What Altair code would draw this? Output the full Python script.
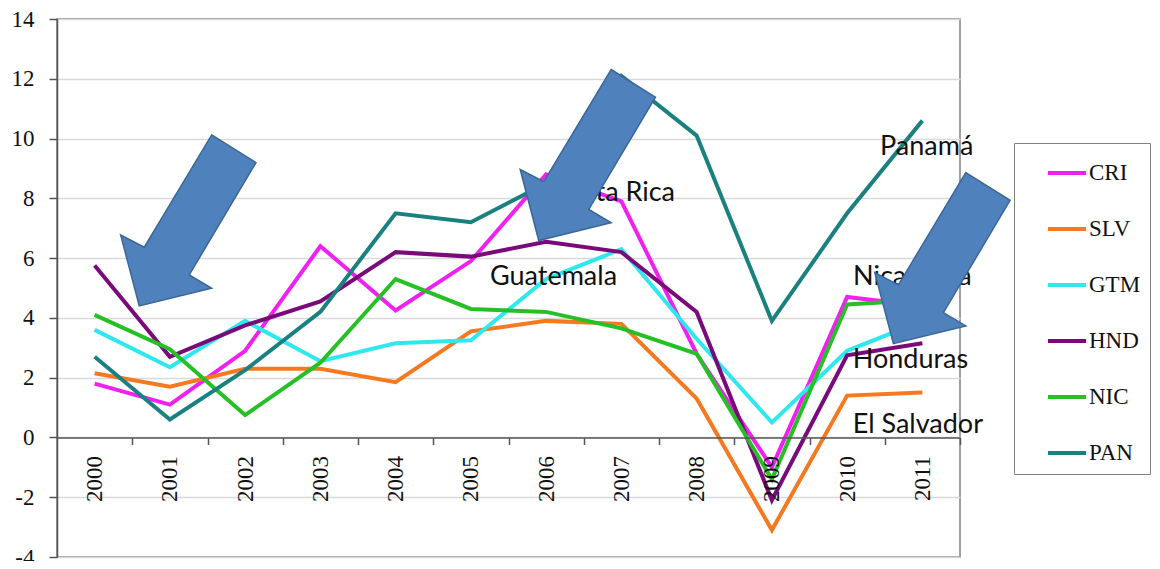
import altair as alt
import pandas as pd

# ---- data ----
years = list(range(2000, 2012))
series = ["CRI", "SLV", "GTM", "HND", "NIC", "PAN"]
CRI = [1.8, 1.1, 2.9, 6.4, 4.25, 5.9, 8.8, 7.9, 2.8, -1.0, 4.7, 4.4]
SLV = [2.15, 1.7, 2.3, 2.3, 1.85, 3.55, 3.9, 3.8, 1.3, -3.1, 1.4, 1.5]
GTM = [3.6, 2.35, 3.9, 2.55, 3.15, 3.25, 5.3, 6.3, 3.3, 0.5, 2.9, 3.9]
HND = [5.75, 2.7, 3.75, 4.55, 6.2, 6.05, 6.55, 6.2, 4.2, -2.1, 2.75, 3.15]
NIC = [4.1, 2.95, 0.75, 2.5, 5.3, 4.3, 4.2, 3.65, 2.8, -1.4, 4.45, 4.6]
PAN = [2.7, 0.6, 2.25, 4.2, 7.5, 7.2, 8.5, 12.1, 10.1, 3.9, 7.5, 10.6]
y_ticks = [-4, -2, 0, 2, 4, 6, 8, 10, 12, 14]

# annotation labels (anchored in data units)
label_text = ["Guatemala", "Panamá", "Nicaragua", "Honduras", "El Salvador"]
label_x = [2005.254, 2010.437, 2010.078, 2010.074, 2010.074]
label_y = [5.38, 9.73, 5.38, 2.6, 0.42]
label_r_text = ["Costa Rica"]
label_r_x = [2007.713]
label_r_y = [8.18]

# arrow centres (data units)
arrow_x = [2001.245, 2006.554, 2011.267]
arrow_y = [7.26, 9.45, 6.0]

colors = ["#f020f0", "#f47920", "#2ee8ee", "#7a0a7a", "#26c026", "#1a8080"]

rows = []
for name, vals in zip(series, [CRI, SLV, GTM, HND, NIC, PAN]):
    for yr, v in zip(years, vals):
        rows.append({"year": yr, "value": v, "country": name})
df = pd.DataFrame(rows)

lab_df = pd.DataFrame({"t": label_text, "x": label_x, "y": label_y})
lab_r_df = pd.DataFrame({"t": label_r_text, "x": label_r_x, "y": label_r_y})
arr_df = pd.DataFrame({"x": arrow_x, "y": arrow_y})

W, H = 903, 538
half = W / 12 / 2
zero_off = -H * 4 / 18
SERIF = "Times New Roman, Liberation Serif, serif"

x_scale = alt.Scale(domain=[1999.5, 2011.5], nice=False, zero=False)
y_scale = alt.Scale(domain=[-4, 14], nice=False, zero=False)

x_axis = alt.Axis(
    values=years, labelExpr="'' + datum.value", title=None, grid=False,
    tickOffset=half, labelOffset=-half, labelAngle=270,
    offset=zero_off, tickSize=7, labelPadding=11, zindex=1,
    domainColor="#555555", domainWidth=1.5, tickColor="#555555", tickWidth=1.5,
    labelFont=SERIF, labelFontSize=23, labelColor="#111111")
y_axis = alt.Axis(
    values=y_ticks, labelExpr="'' + datum.value", title=None, grid=True,
    gridColor="#d9d9d9", gridWidth=1.5,
    tickSize=8, labelPadding=15, domainColor="#555555", domainWidth=1.5,
    tickColor="#555555", tickWidth=1.5,
    labelFont=SERIF, labelFontSize=23, labelColor="#111111")

lines = alt.Chart(df).mark_line(strokeWidth=4).encode(
    x=alt.X("year:Q", scale=x_scale, axis=x_axis),
    y=alt.Y("value:Q", scale=y_scale, axis=y_axis),
    color=alt.Color("country:N", sort=series,
                    scale=alt.Scale(domain=series, range=colors),
                    legend=alt.Legend(
                        orient="none", legendX=957, legendY=124, title=None,
                        symbolType="stroke", symbolSize=1444, symbolStrokeWidth=4,
                        symbolOffset=23, labelOffset=1, padding=9, rowPadding=23,
                        strokeColor="#808080", fillColor="white",
                        labelFont=SERIF, labelFontSize=23,
                        labelColor="#111111")),
)

text_l = alt.Chart(lab_df).mark_text(
    align="left", baseline="middle", font="Lato", fontSize=27, color="#111111"
).encode(
    x=alt.X("x:Q", scale=x_scale, axis=x_axis),
    y=alt.Y("y:Q", scale=y_scale, axis=y_axis),
    text="t:N",
)
text_r = alt.Chart(lab_r_df).mark_text(
    align="right", baseline="middle", font="Lato", fontSize=27, color="#111111"
).encode(
    x=alt.X("x:Q", scale=x_scale, axis=x_axis),
    y=alt.Y("y:Q", scale=y_scale, axis=y_axis),
    text="t:N",
)

ARROW = ("M0.273,-1 L0.791,-0.676 L0.011,0.637 L0.273,0.793 "
         "L-0.574,1 L-0.791,0.17 L-0.515,0.313 Z")
arrows = alt.Chart(arr_df).mark_point(
    shape=ARROW, size=29241, filled=True, fill="#4f81bd", stroke="#3a6796",
    strokeWidth=1.5, opacity=1
).encode(
    x=alt.X("x:Q", scale=x_scale, axis=x_axis),
    y=alt.Y("y:Q", scale=y_scale, axis=y_axis),
)

chart = alt.layer(lines, text_l, text_r, arrows).properties(
    width=W, height=H,
    autosize=alt.AutoSizeParams(type="none"),
    padding={"left": 49, "top": 11, "right": 192, "bottom": 4},
    background="white",
).configure_view(
    stroke="#808080", strokeWidth=1.5
).configure_axis(
    labelFont=SERIF, labelFontSize=23, labelColor="#111111"
).configure_legend(
    labelFont=SERIF, labelFontSize=23, labelColor="#111111"
)

chart.save("out.html", embed_options={"renderer": "svg", "actions": False})
